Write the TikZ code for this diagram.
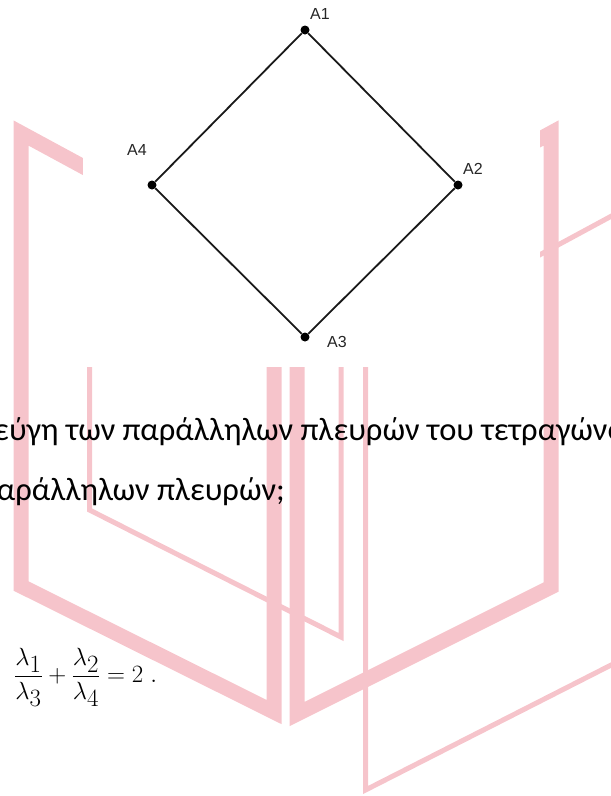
\documentclass[tikz,border=0pt]{standalone}
\usepackage{fontspec}
\setmainfont{Carlito}
\newfontfamily\labfont{Liberation Sans}
\definecolor{wm}{RGB}{246,196,203}
\definecolor{ink}{RGB}{25,25,25}
\tikzset{
  thickpage/.style={draw=wm, line width=15pt, line join=miter},
  thinpage/.style={draw=wm, line width=5pt, line join=miter},
  vdot/.style={circle, fill=black, inner sep=0pt, minimum size=9pt},
  edge/.style={draw=ink, line width=1.8pt},
  lab/.style={font=\labfont\fontsize{16}{18}\selectfont, text=black!85, inner sep=0pt},
  txt/.style={font=\fontsize{32.5}{38}\selectfont, anchor=base west, inner sep=0pt},
}
\begin{document}
\begin{tikzpicture}[x=1pt, y=-1pt]
\useasboundingbox (0,0) rectangle (611,796);
\clip (0,0) rectangle (611,796);
% watermark
\draw[thickpage] (21,133) -- (21,586) -- (274,712) -- (274,270) -- cycle;
\draw[thickpage] (551,133) -- (551,587) -- (297,714) -- (297,271) -- cycle;
\draw[thinpage] (89.5,57) -- (89.5,510) -- (341,637) -- (341,193) -- cycle;
\draw[thinpage] (619,212) -- (619,661) -- (365.5,790) -- (365.5,349) -- cycle;
% white panel with the figure
\fill[white] (83,25) rectangle (540,367);
\node[vdot] (A1) at (305,30) {};
\node[vdot] (A2) at (458,185) {};
\node[vdot] (A3) at (305,337) {};
\node[vdot] (A4) at (152,185) {};
\draw[edge] (A1) -- (A2);
\draw[edge] (A2) -- (A3);
\draw[edge] (A3) -- (A4);
\draw[edge] (A4) -- (A1);
\node[lab] (L1) at (320,14) {A1};
\node[lab] (L2) at (473,169) {A2};
\node[lab] (L3) at (337,341.5) {A3};
\node[lab] (L4) at (137,150) {A4};
% text
\node[txt] (T1) at (-6,440) {εύγη των παράλληλων πλευρών του τετραγώνου};
\node[txt] (T2) at (-21,500) {παράλληλων πλευρών;};
\node[anchor=base west, inner sep=0pt, font=\fontsize{38}{44}\selectfont] (F) at (14,682)
  {$\displaystyle\frac{\lambda_1}{\lambda_3}+\frac{\lambda_2}{\lambda_4}=2\;.$};
\end{tikzpicture}
\end{document}
